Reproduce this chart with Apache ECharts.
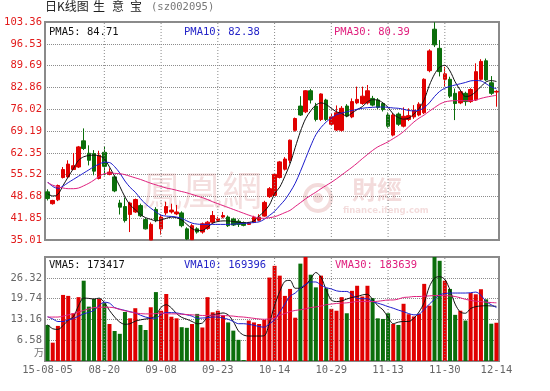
<!DOCTYPE html>
<html>
<head>
<meta charset="utf-8">
<title>日K线图 生意宝</title>
<script src="https://cdn.jsdelivr.net/npm/echarts@6/dist/echarts.min.js"></script>
<style>
  html, body { margin: 0; padding: 0; background: #fff; }
  #main { width: 550px; height: 391px; }
</style>
</head>
<body>
<div id="main"></div>
<script>
// 日期 (2015)
var year = '15';
var dates = ['08-05','08-06','08-07','08-10','08-11','08-12','08-13','08-14','08-17','08-18','08-19','08-20','08-21','08-24','08-25','08-26','08-27','08-28','08-31',
  '09-01','09-02','09-07','09-08','09-09','09-10','09-11','09-14','09-15','09-16','09-17','09-18','09-21','09-22','09-23','09-24','09-25','09-28','09-29','09-30',
  '10-08','10-09','10-10','10-12','10-13','10-14','10-15','10-16','10-19','10-20','10-21','10-22','10-23','10-26','10-27','10-28','10-29','10-30',
  '11-02','11-03','11-04','11-05','11-06','11-09','11-10','11-11','11-12','11-13','11-16','11-17','11-18','11-19','11-20','11-23','11-24','11-25','11-26','11-27','11-30',
  '12-01','12-02','12-03','12-04','12-07','12-08','12-09','12-10','12-11','12-14'];

// K线 开 收 高 低
var opens = [50.1,46.4,47.6,54.6,54.8,57.1,57.9,66.1,62.2,62.1,54.3,62.5,55.6,54.8,46.6,45.5,43.0,43.8,45.8,41.4,35.0,
  44.6,38.5,43.5,43.8,43.2,43.5,38.5,35.1,38.5,37.5,38.6,40.6,41.2,42.2,42.2,41.6,40.9,40.5,39.9,40.6,41.2,42.5,48.6,
  49.0,54.6,57.2,60.0,69.4,77.0,75.2,81.8,77.0,72.8,78.9,71.3,69.5,69.4,77.0,73.6,78.0,77.8,78.0,79.4,78.9,77.8,74.2,
  67.9,74.5,70.7,72.8,73.6,74.2,74.9,88.1,101.1,95.1,85.4,85.4,81.0,78.0,81.0,78.4,78.9,85.4,91.2,84.3,81.4];
var closes = [48.0,47.4,52.1,57.1,58.8,58.3,64.2,63.7,60.0,56.6,61.6,58.1,56.3,50.4,45.3,41.1,46.6,47.7,42.6,38.5,39.9,
  41.2,42.2,45.5,44.4,43.8,39.5,35.3,39.5,37.5,40.1,40.6,42.7,41.6,42.7,39.5,39.7,39.9,39.6,40.3,42.1,42.2,46.8,51.1,
  55.6,59.5,60.4,66.3,73.1,74.2,81.8,78.9,72.8,80.8,72.8,73.6,74.9,76.3,73.9,78.4,79.1,80.1,81.8,77.3,76.6,75.9,70.7,
  74.2,71.3,73.8,74.0,75.7,77.6,85.4,94.3,96.2,87.8,87.1,80.1,77.8,81.5,78.4,82.2,87.8,91.0,85.2,81.0,81.6];
var highs = [50.9,47.6,52.4,57.9,60.0,62.3,64.5,70.0,64.7,63.2,63.0,64.4,57.5,55.2,47.6,48.3,47.0,48.0,46.4,42.0,40.5,
  45.3,43.0,47.0,46.4,46.0,44.0,39.0,40.0,39.0,40.5,41.0,44.1,42.3,43.8,42.7,42.0,41.5,40.8,40.7,42.6,43.1,47.3,51.6,
  55.8,59.8,61.0,66.5,73.4,80.1,82.0,82.4,78.0,81.0,79.3,74.5,77.2,77.0,77.6,79.4,83.1,83.1,83.6,80.2,79.5,78.2,75.0,
  74.8,75.0,76.6,76.3,77.3,78.2,85.7,94.8,103.3,97.7,89.3,86.2,82.5,82.0,81.5,82.6,90.4,91.7,91.9,86.4,82.0];
var lows = [47.4,46.1,47.2,54.3,54.5,57.0,57.6,63.2,58.4,55.3,54.0,55.3,55.3,50.0,43.0,40.5,37.5,43.5,42.2,38.3,35.0,
  40.6,36.7,42.8,43.3,42.8,39.0,35.0,35.0,37.0,37.0,38.2,40.1,40.7,41.8,39.1,39.4,39.1,39.3,39.7,40.3,40.9,42.3,48.2,
  48.8,54.3,56.8,59.0,69.0,73.9,74.8,77.8,72.2,72.3,72.3,70.8,69.2,69.0,73.5,73.2,77.6,77.4,77.5,76.9,76.1,75.3,70.2,
  67.5,70.8,70.3,72.3,73.0,73.8,74.5,87.6,95.5,86.3,83.1,79.5,72.6,77.6,77.1,78.0,78.6,85.0,84.9,80.5,76.8];

// 均价
var ma5 = [49.5,48.8,49.3,52.1,54.8,57.4,60.0,61.1,61.5,61.6,61.4,60.5,57.9,55.0,51.8,48.5,46.0,44.5,43.0,42.0,41.5,
  41.0,41.3,41.8,42.2,42.0,41.3,39.9,38.6,38.0,38.0,39.0,40.3,40.8,41.0,41.0,40.8,40.6,40.4,40.5,41.0,42.5,44.0,46.0,49.5,
  51.6,55.0,58.9,64.0,69.0,73.0,75.5,77.3,78.0,77.5,76.3,75.2,74.7,73.8,74.8,75.9,76.8,78.3,79.0,78.9,78.0,76.6,
  74.5,73.4,72.9,73.2,74.5,76.2,79.0,83.5,87.0,89.2,89.8,88.0,84.6,82.0,80.0,80.3,81.5,83.1,84.6,85.0,84.7];
var ma10 = [53.2,51.8,51.2,51.9,53.0,54.0,55.0,56.0,57.0,58.0,58.8,59.4,59.3,58.0,56.0,53.5,51.5,50.0,48.0,46.3,45.0,
  43.8,42.8,42.5,42.4,42.2,41.8,41.0,40.3,40.0,39.9,39.9,39.9,39.9,39.9,39.9,40.0,40.1,40.2,40.3,40.5,40.7,41.5,42.7,44.0,
  45.8,47.6,50.0,52.8,56.5,60.5,64.5,68.0,70.3,72.0,73.3,74.3,74.8,75.2,75.6,76.0,76.3,76.5,76.6,76.7,76.7,76.6,
  76.4,76.3,76.0,75.6,75.5,75.7,76.5,78.0,80.0,81.6,82.6,83.2,83.6,84.0,84.4,84.9,85.0,84.9,84.0,83.0,82.4];
var ma30 = [53.0,52.2,51.7,51.3,51.1,51.1,51.3,52.0,52.8,53.8,55.0,55.8,56.0,55.9,55.8,55.5,55.0,54.5,54.0,53.4,52.8,
  52.3,51.8,51.3,51.0,50.6,50.2,49.8,49.3,48.8,48.3,47.7,47.0,46.4,45.8,45.2,44.6,44.0,43.4,42.8,42.3,41.9,41.8,42.0,42.3,
  42.9,43.6,44.3,45.5,46.7,47.9,49.0,50.0,51.1,52.1,53.1,54.2,55.4,56.6,57.8,59.1,60.5,61.8,63.1,64.2,65.0,65.8,
  66.8,67.8,69.0,70.5,72.0,73.2,74.2,75.4,76.5,77.6,78.3,78.6,78.7,78.7,78.7,78.7,78.9,79.4,79.8,80.1,80.4];

// 成交量 (万)
var vols = [11.4,5.8,11.1,20.9,20.6,15.1,20.2,25.4,17.2,19.6,19.6,18.3,11.7,9.5,8.6,15.5,13.5,16.7,11.4,9.8,17.0,
  21.8,15.9,21.2,14.0,13.5,10.7,10.5,11.7,14.9,10.6,20.2,15.4,15.9,14.3,12.2,9.6,6.7,0.3,12.8,12.2,11.7,13.0,26.4,
  30.1,27.0,20.6,22.8,13.7,30.8,32.9,27.3,23.3,27.0,23.0,16.5,15.9,20.2,15.1,22.2,23.8,20.4,23.8,19.9,13.5,13.3,15.1,
  11.7,11.4,18.1,14.8,14.1,14.9,24.4,17.5,32.9,31.7,25.4,22.8,14.6,15.9,12.8,21.5,21.1,22.7,19.5,11.8,12.1];
var vma5 = [11.5,10.2,10.0,11.2,12.9,14.0,17.5,19.9,19.8,19.6,19.9,18.5,16.0,13.9,12.3,11.6,11.8,12.6,13.0,13.3,13.5,
  14.4,17.0,17.8,16.8,15.0,13.8,13.2,12.5,11.8,12.0,14.0,14.6,14.9,15.2,14.6,12.5,9.5,8.2,7.9,7.9,7.9,8.0,12.0,17.6,
  22.0,25.2,25.5,23.0,23.0,24.0,26.0,28.0,26.5,22.5,19.3,18.8,19.0,19.6,20.1,20.4,20.9,21.1,19.5,17.5,16.2,13.8,
  11.8,12.3,12.5,12.5,13.5,15.5,18.5,23.5,26.2,26.7,25.8,22.5,18.0,15.5,15.1,16.6,17.2,17.4,17.5,17.4,17.3];
var vma10 = [14.0,13.3,12.5,12.5,13.0,13.4,14.2,14.9,15.4,16.0,17.6,18.6,18.3,16.9,16.4,16.0,15.6,15.2,14.5,13.9,13.6,
  13.5,14.8,15.3,15.3,15.2,14.9,14.6,14.2,13.5,13.6,13.7,13.9,13.9,13.6,13.2,12.5,11.8,11.8,11.6,11.3,10.9,10.7,11.8,13.0,
  15.5,18.0,20.5,21.5,23.0,24.2,25.0,25.0,24.0,23.2,22.8,22.2,22.0,22.0,21.0,19.8,19.7,19.7,18.8,18.3,17.8,17.2,
  16.7,16.1,15.6,15.0,14.6,14.8,16.3,18.0,19.5,21.0,21.3,21.5,21.5,21.5,21.5,21.6,21.8,20.8,18.8,17.8,16.9];
var vma30 = [13.9,13.9,13.9,14.2,14.6,15.0,15.5,16.0,16.5,16.9,17.0,17.0,17.0,16.8,16.3,15.9,15.5,15.2,15.0,14.9,14.9,
  15.0,15.1,15.0,14.9,14.9,14.8,14.7,14.6,14.5,14.4,14.4,14.5,14.5,14.4,14.3,14.2,14.0,13.9,13.7,13.5,13.3,13.2,13.3,13.5,
  14.5,15.0,15.6,16.0,16.2,16.5,16.9,17.1,17.4,17.8,18.0,18.2,18.3,18.4,18.6,18.8,18.8,18.8,18.8,18.9,19.1,19.3,
  19.3,19.6,20.1,20.2,20.4,20.4,20.5,20.6,20.7,20.7,20.7,20.6,20.4,20.0,19.5,19.2,18.9,18.8,18.6,18.5,18.4];

// 刻度
var priceMin = 35.01, priceMax = 103.36, priceStep = 6.835;
var priceTicks = ['35.01','41.85','48.68','55.52','62.35','69.19','76.02','82.86','89.69','96.53','103.36'];
var volMax = 32.9, volStep = 6.58;
var volTicks = ['', '6.58', '13.16', '19.74', '26.32', ''];
var dateStep = 11;
var pmaLabels = ['PMA5: 84.71', 'PMA10: 82.38', 'PMA30: 80.39'];
var vmaLabels = ['VMA5: 173417', 'VMA10: 169396', 'VMA30: 183639'];

var upColor = '#e00000';
var downColor = '#0b6e0b';
var maColors = ['#111111', '#1c1ccc', '#e0207e'];
var mono = '"DejaVu Sans Mono", monospace';
var cjk = '"Noto Sans CJK SC", sans-serif';

var kData = opens.map(function (o, i) { return [o, closes[i], lows[i], highs[i]]; });
var volData = vols.map(function (v, i) {
  return { value: v, itemStyle: { color: closes[i] >= opens[i] ? upColor : downColor } };
});

var last = dates.length - 1;
// 竖向网格线：每11个交易日一条
function vGridSeries(xi, yMin, yMax) {
  var list = [];
  for (var k = dateStep; k < last; k += dateStep) {
    list.push({
      type: 'line', xAxisIndex: xi, yAxisIndex: xi, z: 3, silent: true,
      showSymbol: false, symbol: 'none', clip: false,
      emphasis: { disabled: true },
      data: [[k, yMin], [k, yMax]],
      lineStyle: { type: [1, 2], color: '#8a8a8a', width: 1 }
    });
  }
  return list;
}

function maLine(name, data, color, xi) {
  return {
    name: name,
    type: 'line',
    xAxisIndex: xi,
    yAxisIndex: xi,
    data: data,
    showSymbol: false,
    smooth: 0.3,
    z: 4,
    silent: true,
    emphasis: { disabled: true },
    lineStyle: { width: 1, color: color },
    itemStyle: { color: color }
  };
}

function legendText(txt, x, y, color) {
  return { type: 'text', left: x, top: y, z: 10,
    style: { text: txt, fill: color, font: '10.5px ' + mono } };
}

var chart = echarts.init(document.getElementById('main'));

var series = [].concat(
  [
    {
      name: 'K', type: 'candlestick', xAxisIndex: 0, yAxisIndex: 0, data: kData,
      barWidth: 4, z: 2, silent: true, emphasis: { disabled: true },
      itemStyle: {
        color: upColor, color0: downColor,
        borderColor: upColor, borderColor0: downColor, borderColorDoji: upColor, borderWidth: 1
      }
    },
    maLine('PMA5', ma5, maColors[0], 0),
    maLine('PMA10', ma10, maColors[1], 0),
    maLine('PMA30', ma30, maColors[2], 0),
    {
      name: 'VOL', type: 'bar', xAxisIndex: 1, yAxisIndex: 1, data: volData,
      barWidth: 4, z: 2, silent: true, emphasis: { disabled: true }
    },
    maLine('VMA5', vma5, maColors[0], 1),
    maLine('VMA10', vma10, maColors[1], 1),
    maLine('VMA30', vma30, maColors[2], 1)
  ],
  vGridSeries(0, priceMin, priceMax),
  vGridSeries(1, 0, volMax)
);

var option = {
  backgroundColor: '#fff',
  animation: false,
  grid: [
    { left: 45, top: 22, width: 454, height: 218, show: true, borderColor: '#8a8a8a', borderWidth: 2, outerBoundsMode: 'none' },
    { left: 45, top: 257, width: 454, height: 104, show: true, borderColor: '#8a8a8a', borderWidth: 2, outerBoundsMode: 'none' }
  ],
  xAxis: [
    {
      type: 'category', gridIndex: 0, data: dates, boundaryGap: true,
      axisLine: { show: false }, axisTick: { show: false }, axisLabel: { show: false }, splitLine: { show: false }
    },
    {
      type: 'category', gridIndex: 1, data: dates, boundaryGap: true,
      axisLine: { show: false }, axisTick: { show: false }, splitLine: { show: false },
      axisLabel: {
        interval: function (idx) { return idx % dateStep === 0 || idx === last; },
        formatter: function (v, idx) { return idx === 0 ? year + '-' + v : v; },
        color: '#666', fontFamily: mono, fontSize: 10.5, margin: 4
      }
    }
  ],
  yAxis: [
    {
      type: 'value', gridIndex: 0, min: priceMin, max: priceMax, interval: priceStep,
      axisLine: { show: false }, axisTick: { show: false },
      splitLine: { lineStyle: { type: 'dotted', color: '#8c8c8c' } },
      axisLabel: {
        color: '#e21b1b', fontFamily: mono, fontSize: 10.5, margin: 3,
        formatter: function (v) { return priceTicks[Math.round((v - priceMin) / priceStep)]; }
      }
    },
    {
      type: 'value', gridIndex: 1, min: 0, max: volMax, interval: volStep,
      axisLine: { show: false }, axisTick: { show: false },
      splitLine: { lineStyle: { type: 'dotted', color: '#8c8c8c' } },
      axisLabel: {
        color: '#666', fontFamily: mono, fontSize: 10.5, margin: 3,
        formatter: function (v) { return volTicks[Math.round(v / volStep)]; }
      }
    }
  ],
  series: series,
  graphic: [
    // 标题
    { type: 'text', left: 45, top: 0, style: { text: '日K线图', fill: '#222', font: '12px ' + cjk } },
    { type: 'text', left: 93, top: 0, style: { text: '生', fill: '#222', font: '12px ' + cjk } },
    { type: 'text', left: 112, top: 0, style: { text: '意', fill: '#222', font: '12px ' + cjk } },
    { type: 'text', left: 130, top: 0, style: { text: '宝', fill: '#222', font: '12px ' + cjk } },
    { type: 'text', left: 151, top: 2, style: { text: '(sz002095)', fill: '#777', font: '10.5px ' + mono } },
    // 水印
    { type: 'text', left: 142, top: 170, z: 1, style: { text: '鳳凰網', fill: 'rgba(200,90,90,0.20)', font: '40px "Noto Sans CJK TC", sans-serif' } },
    { type: 'circle', shape: { cx: 318, cy: 198, r: 13 }, z: 1, style: { fill: 'none', stroke: 'rgba(200,90,90,0.22)', lineWidth: 4 } },
    { type: 'circle', shape: { cx: 318, cy: 198, r: 5 }, z: 1, style: { fill: 'rgba(200,90,90,0.22)' } },
    { type: 'text', left: 352, top: 177, z: 1, style: { text: '財經', fill: 'rgba(200,90,90,0.22)', font: 'bold 25px "Noto Sans CJK TC", sans-serif' } },
    { type: 'text', left: 343, top: 206, z: 1, style: { text: 'finance.ifeng.com', fill: 'rgba(200,90,90,0.22)', font: 'bold 8.5px "DejaVu Sans", sans-serif' } },
    // 图例
    legendText(pmaLabels[0], 49, 27, '#111'),
    legendText(pmaLabels[1], 184, 27, '#2424c8'),
    legendText(pmaLabels[2], 334, 27, '#e0207e'),
    legendText(vmaLabels[0], 49, 260, '#111'),
    legendText(vmaLabels[1], 184, 260, '#2424c8'),
    legendText(vmaLabels[2], 335, 260, '#e0207e'),
    // 单位
    { type: 'text', left: 34, top: 347, style: { text: '万', fill: '#777', font: '10px ' + cjk } }
  ]
};

chart.setOption(option);
</script>
</body>
</html>
